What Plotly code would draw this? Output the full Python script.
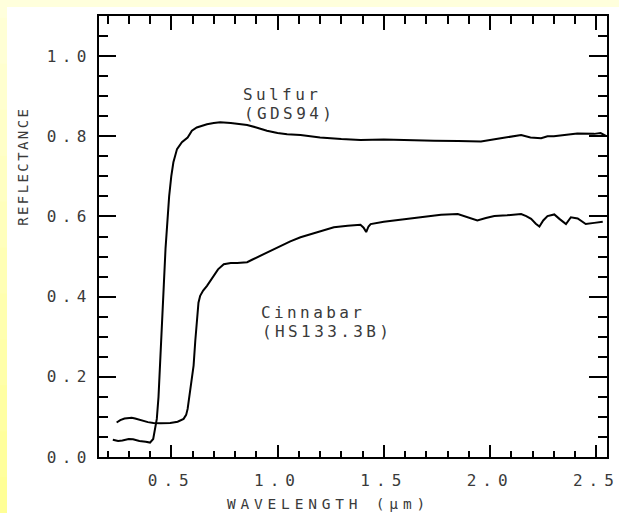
import plotly.graph_objects as go

# Reflectance spectra (wavelength in micrometres)
sulfur_wl = [0.225, 0.25, 0.27, 0.30, 0.32, 0.35, 0.38, 0.40, 0.415, 0.425, 0.432, 0.44,
             0.447, 0.455, 0.465, 0.473, 0.48, 0.49, 0.50, 0.51, 0.527, 0.55, 0.577, 0.597,
             0.62, 0.668, 0.70, 0.73, 0.78, 0.857, 0.90, 0.95, 1.0, 1.045, 1.108, 1.2, 1.3,
             1.39, 1.5, 1.6, 1.737, 1.85, 1.957, 2.05, 2.146, 2.19, 2.24, 2.27, 2.30, 2.35,
             2.41, 2.49, 2.52, 2.545]
sulfur_refl = [0.043, 0.040, 0.041, 0.045, 0.044, 0.040, 0.038, 0.036, 0.045, 0.070, 0.095,
               0.150, 0.220, 0.310, 0.430, 0.520, 0.580, 0.650, 0.700, 0.735, 0.768, 0.785,
               0.797, 0.814, 0.822, 0.830, 0.833, 0.835, 0.833, 0.828, 0.822, 0.814, 0.808,
               0.805, 0.803, 0.797, 0.793, 0.791, 0.792, 0.790, 0.789, 0.788, 0.787, 0.795,
               0.803, 0.797, 0.795, 0.800, 0.800, 0.803, 0.807, 0.806, 0.808, 0.801]

cinnabar_wl = [0.243, 0.26, 0.28, 0.30, 0.314, 0.33, 0.36, 0.39, 0.416, 0.45, 0.495, 0.53,
               0.558, 0.57, 0.577, 0.585, 0.595, 0.605, 0.613, 0.621, 0.628, 0.636, 0.65,
               0.668, 0.699, 0.72, 0.747, 0.78, 0.81, 0.857, 0.88, 0.92, 0.97, 1.014, 1.06,
               1.108, 1.18, 1.265, 1.33, 1.39, 1.405, 1.417, 1.428, 1.438, 1.5, 1.58, 1.68,
               1.769, 1.848, 1.9, 1.94, 1.98, 2.02, 2.08, 2.146, 2.17, 2.193, 2.215, 2.232,
               2.25, 2.27, 2.302, 2.315, 2.326, 2.357, 2.38, 2.412, 2.43, 2.45, 2.49, 2.53]
cinnabar_refl = [0.086, 0.092, 0.096, 0.098, 0.098, 0.096, 0.091, 0.087, 0.085, 0.084, 0.085,
                 0.088, 0.095, 0.105, 0.120, 0.150, 0.190, 0.228, 0.290, 0.352, 0.385, 0.402,
                 0.415, 0.427, 0.452, 0.468, 0.481, 0.484, 0.484, 0.486, 0.492, 0.502, 0.515,
                 0.527, 0.538, 0.548, 0.560, 0.573, 0.577, 0.579, 0.572, 0.561, 0.575, 0.581,
                 0.587, 0.592, 0.598, 0.604, 0.606, 0.598, 0.590, 0.596, 0.601, 0.603, 0.606,
                 0.601, 0.594, 0.582, 0.575, 0.590, 0.601, 0.605, 0.600, 0.594, 0.581, 0.598,
                 0.595, 0.588, 0.581, 0.584, 0.587]

x_ticks = [0.5, 1.0, 1.5, 2.0, 2.5]
x_tick_labels = ["0.5", "1.0", "1.5", "2.0", "2.5"]
y_ticks = [0.0, 0.2, 0.4, 0.6, 0.8, 1.0]
y_tick_labels = ["0.0", "0.2", "0.4", "0.6", "0.8", "1.0"]

X_RANGE = [0.16, 2.55]
Y_RANGE = [0, 1.1]

FONT = "DejaVu Sans Mono"
INK = "#3a3a3a"


def spaced(text, px, balanced=False):
    # letter-spacing also trails the last glyph; a leading zero-width char evens it out
    lead = "\u200b" if balanced else ""
    return f'<span style="letter-spacing:{px}px">{lead}{text}</span>'


fig = go.Figure()
fig.add_trace(go.Scatter(x=sulfur_wl, y=sulfur_refl, mode="lines",
                         line=dict(color="black", width=2), showlegend=False))
fig.add_trace(go.Scatter(x=cinnabar_wl, y=cinnabar_refl, mode="lines",
                         line=dict(color="black", width=2), showlegend=False))
# empty trace that registers the top / right frame axes
fig.add_trace(go.Scatter(x=[], y=[], xaxis="x2", yaxis="y2", showlegend=False,
                         hoverinfo="skip"))

# pale yellow border along the top and left edges of the page
shapes = [dict(type="rect", xref="paper", yref="paper", x0=-0.3, x1=1.1, y0=1.0204, y1=1.1,
               fillcolor="#FFFFDC", line=dict(width=0), layer="below")]
n_bands = 12
for i in range(n_bands):
    f = i / (n_bands - 1)
    b = int(0xDC - (0xDC - 0x96) * f)
    y_top = 1.1 - (1.25 / n_bands) * i
    y_bot = y_top - 1.25 / n_bands - 0.002
    shapes.append(dict(type="rect", xref="paper", yref="paper", x0=-0.3, x1=-0.1811,
                       y0=y_bot, y1=y_top, fillcolor=f"rgb(255,255,{b})",
                       line=dict(width=0), layer="below"))

label_font = dict(family=FONT, size=16, color=INK)
annotations = [
    dict(text=spaced("Sulfur", 3.4), x=0.2795, y=0.823, xref="paper", yref="paper",
         xanchor="left", yanchor="middle", showarrow=False, font=label_font),
    dict(text=spaced("(GDS94)", 3.4), x=0.2815, y=0.780, xref="paper", yref="paper",
         xanchor="left", yanchor="middle", showarrow=False, font=label_font),
    dict(text=spaced("Cinnabar", 3.4), x=0.3150, y=0.3277, xref="paper", yref="paper",
         xanchor="left", yanchor="middle", showarrow=False, font=label_font),
    dict(text=spaced("(HS133.3B)", 3.4), x=0.3165, y=0.2857, xref="paper", yref="paper",
         xanchor="left", yanchor="middle", showarrow=False, font=label_font),
    dict(text=spaced("REFLECTANCE", 2.4), x=-0.1496, y=0.658, xref="paper", yref="paper",
         xanchor="center", yanchor="middle", textangle=-90, showarrow=False,
         font=dict(family=FONT, size=14, color=INK)),
    dict(text=spaced("WAVELENGTH (μm)", 4.8), x=0.4516, y=-0.1066, xref="paper", yref="paper",
         xanchor="center", yanchor="middle", showarrow=False,
         font=dict(family=FONT, size=14.5, color=INK)),
]

fig.update_layout(
    width=619, height=513,
    margin=dict(l=99, r=12, t=16, b=56, pad=0, autoexpand=False),
    paper_bgcolor="white", plot_bgcolor="white",
    shapes=shapes, annotations=annotations,
    font=dict(family=FONT, size=16, color=INK),
    xaxis=dict(
        range=X_RANGE, showgrid=False, zeroline=False, automargin=False,
        showline=True, linecolor="black", linewidth=2, ticklabeloverflow="allow",
        tickmode="array", tickvals=x_ticks,
        ticktext=[spaced(t, 6, balanced=True) for t in x_tick_labels],
        ticks="inside", ticklen=12, tickwidth=2, tickcolor="black",
        ticklabelstandoff=8, tickfont=dict(family=FONT, size=16, color=INK),
        minor=dict(dtick=0.1, tick0=0.0, ticks="inside", ticklen=6, tickwidth=2,
                   tickcolor="black"),
    ),
    yaxis=dict(
        range=Y_RANGE, showgrid=False, zeroline=False, automargin=False,
        showline=True, linecolor="black", linewidth=2, ticklabeloverflow="allow",
        tickmode="array", tickvals=y_ticks, ticktext=[spaced(t, 5.4) for t in y_tick_labels],
        ticks="inside", ticklen=17, tickwidth=2, tickcolor="black",
        ticklabelstandoff=2, tickfont=dict(family=FONT, size=16, color=INK),
        minor=dict(dtick=0.05, tick0=0.0, ticks="inside", ticklen=9, tickwidth=2,
                   tickcolor="black"),
    ),
    xaxis2=dict(
        range=X_RANGE, overlaying="x", side="top", anchor="y2",
        showgrid=False, zeroline=False, automargin=False, showticklabels=False,
        showline=True, linecolor="black", linewidth=2,
        tickmode="array", tickvals=x_ticks,
        ticks="inside", ticklen=14, tickwidth=2, tickcolor="black",
        minor=dict(dtick=0.1, tick0=0.0, ticks="inside", ticklen=8, tickwidth=2,
                   tickcolor="black"),
    ),
    yaxis2=dict(
        range=Y_RANGE, overlaying="y", side="right", anchor="x2",
        showgrid=False, zeroline=False, automargin=False, showticklabels=False,
        showline=True, linecolor="black", linewidth=2,
        tickmode="array", tickvals=y_ticks,
        ticks="inside", ticklen=18, tickwidth=2, tickcolor="black",
        minor=dict(dtick=0.05, tick0=0.0, ticks="inside", ticklen=9, tickwidth=2,
                   tickcolor="black"),
    ),
)

fig.write_html("out.html")
